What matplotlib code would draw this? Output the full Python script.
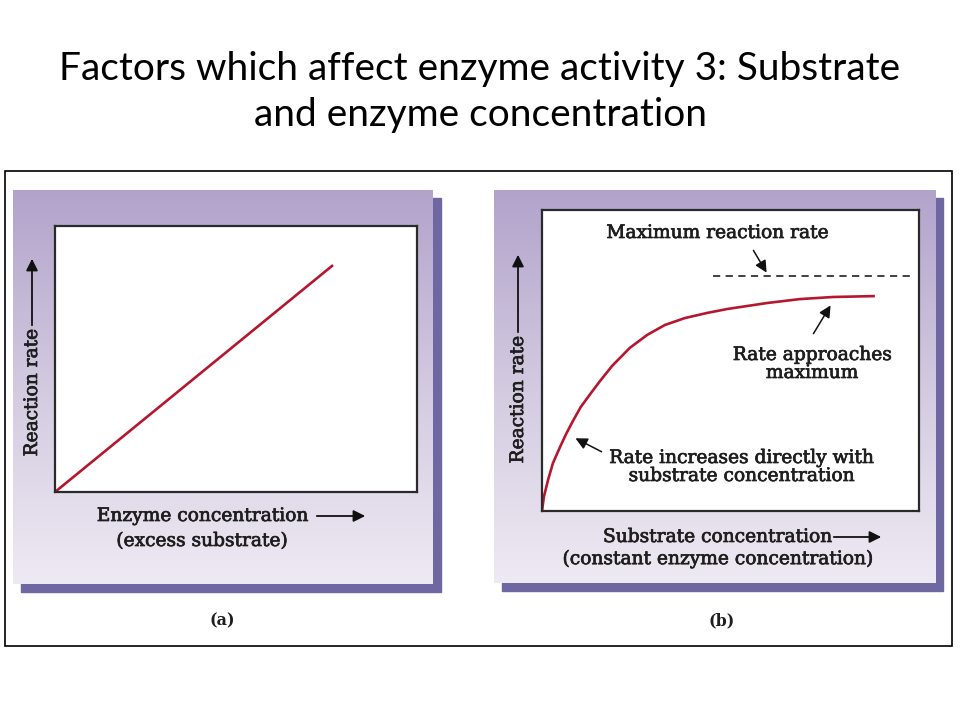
import matplotlib.pyplot as plt
from matplotlib.patches import Rectangle, FancyArrowPatch
from matplotlib.colors import LinearSegmentedColormap
import matplotlib.patheffects as pe
import numpy as np

W, H = 960, 720

title = "Factors which affect enzyme activity 3: Substrate\nand enzyme concentration"

# panel (a): reaction rate vs enzyme concentration (straight line)
enzyme_x = [0.0, 7.68]
enzyme_rate = [0.0, 8.53]

# panel (b): reaction rate vs substrate concentration (saturating curve)
substrate_x = [0.0, 0.05, 0.16, 0.29, 0.48, 0.64, 0.82, 1.03, 1.30, 1.54,
               1.86, 2.33, 2.79, 3.26, 3.79, 4.38, 4.91, 5.97, 6.84, 7.72,
               8.83]
substrate_rate = [0.0, 0.47, 1.03, 1.59, 2.13, 2.56, 2.99, 3.46, 3.92, 4.32,
                  4.82, 5.42, 5.85, 6.18, 6.41, 6.58, 6.71, 6.91, 7.04, 7.11,
                  7.14]
max_rate = 7.81
max_rate_span = [4.54, 9.76]

serif = "DejaVu Serif"
red = "#b5172f"
shadow = "#6e67a1"
ink = "#1e1e1e"


def fx(px):
    return px / W


def fy(py):
    return 1 - py / H


def box(x0, y0, x1, y1):
    return [fx(x0), fy(y1), fx(x1) - fx(x0), fy(y0) - fy(y1)]


def pix(x, y):
    return (fx(x), fy(y))


fig = plt.figure(figsize=(9.6, 7.2), dpi=100)

fig.text(0.5, fy(92), title, ha="center", va="center", fontsize=28,
         family="Lato", linespacing=1.32, color="black")

# outer image frame
fig.add_artist(Rectangle(pix(5, 646), fx(952) - fx(5), fy(171) - fy(646),
                         transform=fig.transFigure, fill=False,
                         edgecolor="black", lw=1.2, zorder=-1))

grad = np.linspace(0, 1, 256).reshape(-1, 1)
cmap = LinearSegmentedColormap.from_list("purp", ["#b2a3cb", "#d3cae0", "#eeeaf3"])


def panel(x0, y0, x1, y1):
    # drop shadow
    fig.add_artist(Rectangle(pix(x0 + 8, y1 + 8), fx(x1) - fx(x0), fy(y0) - fy(y1),
                             transform=fig.transFigure, color=shadow, zorder=-1))
    bg = fig.add_axes(box(x0, y0, x1, y1))
    bg.imshow(grad, aspect="auto", cmap=cmap, extent=[0, 1, 0, 1])
    bg.set_axis_off()


panel(13, 190, 433, 584)
panel(494, 190, 935, 583)


def plot_axes(x0, y0, x1, y1):
    ax = fig.add_axes(box(x0, y0, x1, y1))
    ax.set_facecolor("white")
    ax.set_xlim(0, 10)
    ax.set_ylim(0, 10)
    ax.set_xticks([])
    ax.set_yticks([])
    for s in ax.spines.values():
        s.set_linewidth(1.6)
        s.set_color("#2a2a2a")
    return ax


def arrow(x0, y0, x1, y1, lw=1.3, hw=0.35):
    fig.add_artist(FancyArrowPatch(
        pix(x0, y0), pix(x1, y1), transform=fig.transFigure,
        arrowstyle=f"-|>,head_length={hw*2},head_width={hw}",
        color="#111111", lw=lw, mutation_scale=10, zorder=5))


heavy = [pe.withStroke(linewidth=0.5, foreground=ink)]
txt = dict(family=serif, color=ink, fontsize=13.4, path_effects=heavy)

# ---- panel (a)
ax1 = plot_axes(55, 226, 417, 492)
ax1.plot(enzyme_x, enzyme_rate, color=red, lw=1.9, solid_capstyle="butt")

fig.text(fx(32), fy(393), "Reaction rate", rotation=90, ha="center", va="center", **txt)
arrow(32, 328, 32, 256)
fig.text(fx(202), fy(516), "Enzyme concentration", ha="center", va="center", **txt)
arrow(314, 516, 368, 516)
fig.text(fx(202), fy(541), "(excess substrate)", ha="center", va="center", **txt)
fig.text(fx(222), fy(621), "(a)", ha="center", va="center", fontweight="bold",
         family=serif, fontsize=11.5, color=ink)

# ---- panel (b)
ax2 = plot_axes(542, 210, 919, 511)
ax2.plot(substrate_x, substrate_rate, color=red, lw=1.9,
         solid_joinstyle="round", solid_capstyle="butt")
ax2.plot(max_rate_span, [max_rate, max_rate], color="#333333", lw=1.3,
         dashes=(4, 3))

fig.text(fx(518), fy(400), "Reaction rate", rotation=90, ha="center", va="center", **txt)
arrow(518, 335, 518, 252)
fig.text(fx(717), fy(537), "Substrate concentration", ha="center", va="center", **txt)
arrow(831, 537, 884, 537)
fig.text(fx(717), fy(559), "(constant enzyme concentration)", ha="center", va="center", **txt)
fig.text(fx(722), fy(621), "(b)", ha="center", va="center", fontweight="bold",
         family=serif, fontsize=11.5, color=ink)

fig.text(fx(717), fy(233), "Maximum reaction rate", ha="center", va="center", **txt)
arrow(752, 248, 768, 275, lw=1.1)
fig.text(fx(812), fy(364), "Rate approaches\nmaximum", ha="center", va="center",
         linespacing=1.0, **txt)
arrow(812, 336, 832, 303, lw=1.1)
fig.text(fx(741), fy(467), "Rate increases directly with\nsubstrate concentration",
         ha="center", va="center", linespacing=1.0, **txt)
arrow(604, 453, 573, 437, lw=1.1)

fig.savefig("out.png", dpi=100, facecolor="white")
